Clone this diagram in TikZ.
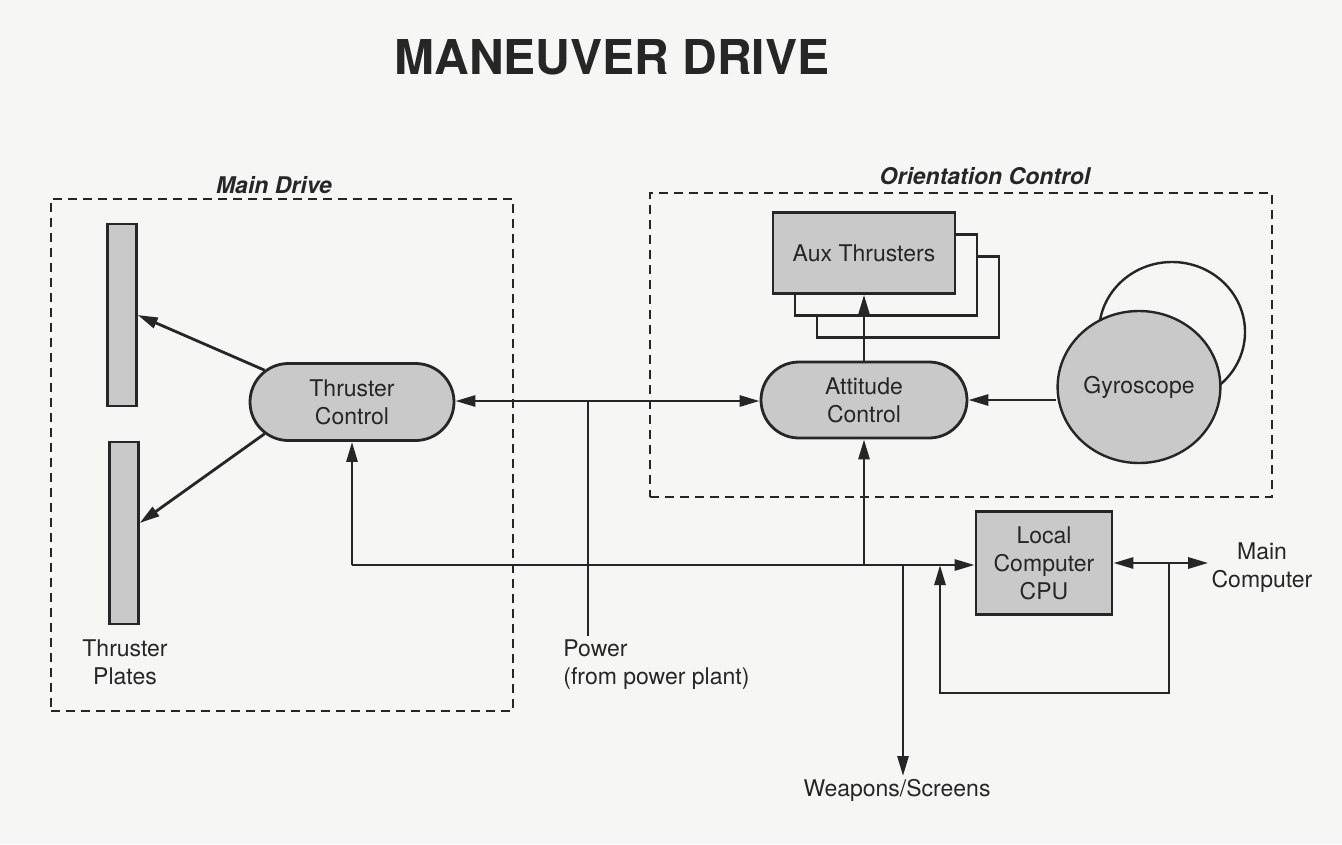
\documentclass[tikz,border=0pt]{standalone}
\usepackage{fontspec}
\setmainfont{TeX Gyre Heros}
\usetikzlibrary{arrows.meta}
\usetikzlibrary{shapes.misc}
\usetikzlibrary{shapes.geometric}

\definecolor{ink}{HTML}{262626}
\definecolor{dots}{HTML}{C9C9C9}
\definecolor{paper}{HTML}{F6F6F4}

\begin{document}
\begin{tikzpicture}
 [ x=1pt, y=-1pt
 , line width=2.8pt
 , >={Triangle[length=20pt,width=11pt]}
 , every node/.style={font=\fontsize{23}{28}\selectfont, align=center, inner sep=2pt, text=ink}
 , stipple/.style={draw=ink, fill=dots}
 , pill/.style={stipple, rounded rectangle, minimum width=208pt, minimum height=77pt}
 , plate/.style={stipple, line width=2.4pt, minimum width=29pt, minimum height=182pt}
 , auxbox/.style={draw=ink, line width=2.4pt, minimum width=182pt, minimum height=81pt}
 , group/.style={draw=ink, line width=2.4pt, dash pattern=on 9pt off 6pt}
 , grouplabel/.style={font=\fontsize{23}{28}\selectfont\bfseries\itshape}
 , link/.style={draw=ink, ->}
 ]
  \fill [paper] (0,0) rectangle (1342,844);
  \useasboundingbox (0,0) rectangle (1342,844);

  \node (title) [font=\fontsize{48}{56}\selectfont\bfseries] at (612,57) {MANEUVER DRIVE};

  % main drive
  \node (main) [group, minimum width=462pt, minimum height=512pt] at (282,455) {};
  \node (mainlbl) [grouplabel] at (274,185) {Main Drive};
  \node (plateA) [plate] at (122,315) {};
  \node (plateB) [plate] at (124,533) {};
  \node (plates) at (125,662) {Thruster\\Plates};
  \node (tc) [pill] at (352,402) {Thruster\\Control};

  % orientation control
  \node (orient) [group, minimum width=622pt, minimum height=304pt] at (961,345) {};
  \node (orientlbl) [grouplabel] at (985,176) {Orientation Control};
  \node (aux3) [auxbox, fill=paper] at (908,297) {};
  \node (aux2) [auxbox, fill=paper] at (886,275) {};
  \node (aux) [auxbox, fill=dots] at (864,253) {Aux Thrusters};
  \node (at) [pill, minimum width=210pt, minimum height=76pt] at (864,400) {Attitude\\Control};
  \node (gyroback) [ellipse, draw=ink, line width=2.4pt, fill=paper, minimum width=146pt, minimum height=140pt] at (1172,332) {};
  \node (gyro) [ellipse, stipple, line width=2.4pt, minimum width=158pt, minimum height=152pt] at (1139,387) {Gyroscope};

  % computer side
  \node (cpu) [stipple, minimum width=136pt, minimum height=103pt] at (1044,563) {Local\\Computer\\CPU};
  \node (mc) at (1262,568) {Main\\Computer};
  \node (power) [align=left, anchor=north west] at (560,636) {Power\\(from power plant)};
  \node (weapons) [anchor=north] at (897,776) {Weapons/Screens};

  \coordinate (pj) at (588,401);
  \coordinate (bus) at (352,565);
  \coordinate (busW) at (903,565);
  \coordinate (loopR) at (1169,693);
  \coordinate (loopL) at (940,693);

  % connectors
  \draw [link] (tc.160) -- (plateA.east);
  \draw [link] (tc.200) -- ([yshift=10pt]plateB.east);
  \draw [link] (pj) -- (pj -| tc.east);
  \draw [link] (pj) -- (pj -| at.west);
  \draw [ink] (pj) -- (pj |- power.north);
  \draw [link] (tc.south |- bus) -- (bus -| cpu.west);
  \draw [link] (tc.south |- bus) -- (tc.south);
  \draw [link] (bus -| at.south) -- (at.south);
  \draw [link] (busW) -- (busW |- weapons.north);
  \draw [link] (at.north) -- (aux.south);
  \draw [link] (at.east -| gyro.west) -- (at.east);
  \draw [ink, <->] (cpu.east) -- (cpu.east -| mc.west);
  \draw [link] (cpu.east -| loopR) -- (loopR) -- (loopL) -- (loopL |- bus);
\end{tikzpicture}
\end{document}
